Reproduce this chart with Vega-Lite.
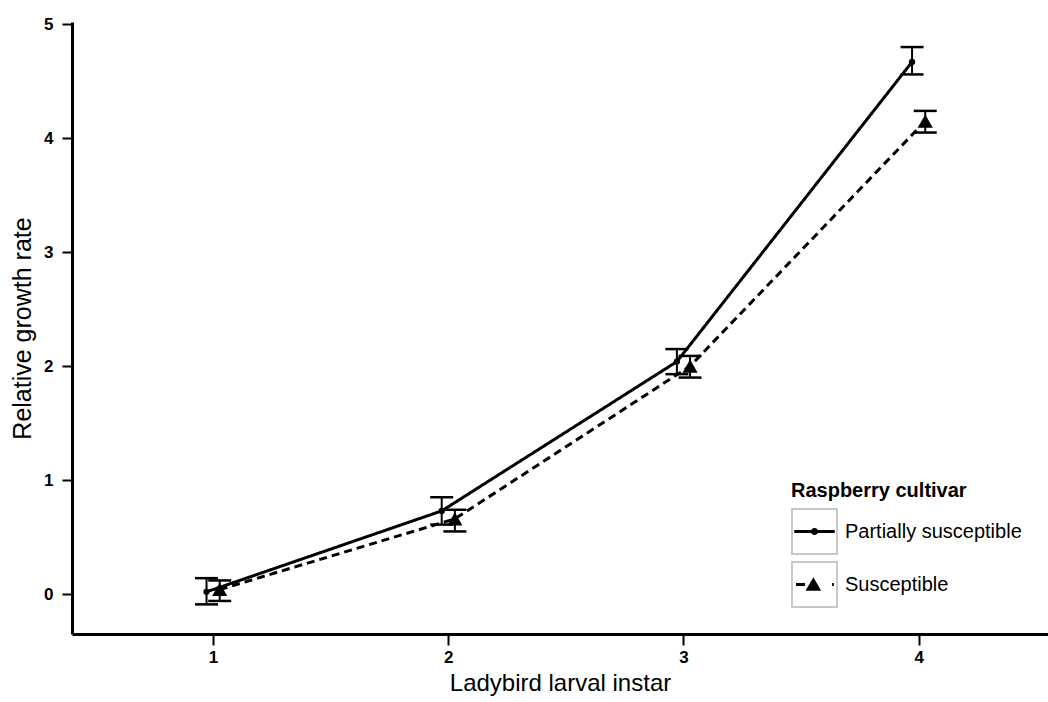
{
  "$schema": "https://vega.github.io/schema/vega-lite/v6.json",
  "width": 976,
  "height": 612,
  "autosize": {"type": "none"},
  "padding": {"left": 72, "top": 22, "right": 0, "bottom": 68},
  "background": "white",
  "config": {
    "view": {"stroke": null},
    "font": "Liberation Sans",
    "axis": {"grid": false, "domainColor": "black", "tickColor": "black", "labelColor": "black", "titleColor": "black", "labelFont": "Liberation Sans", "titleFont": "Liberation Sans"}
  },
  "data": {
    "values": [
      {"cultivar": "Partially susceptible", "instar": 1, "mean": 0.02, "lo": -0.09, "hi": 0.14},
      {"cultivar": "Partially susceptible", "instar": 2, "mean": 0.73, "lo": 0.61, "hi": 0.85},
      {"cultivar": "Partially susceptible", "instar": 3, "mean": 2.04, "lo": 1.93, "hi": 2.15},
      {"cultivar": "Partially susceptible", "instar": 4, "mean": 4.67, "lo": 4.56, "hi": 4.8},
      {"cultivar": "Susceptible", "instar": 1, "mean": 0.04, "lo": -0.06, "hi": 0.12},
      {"cultivar": "Susceptible", "instar": 2, "mean": 0.66, "lo": 0.55, "hi": 0.74},
      {"cultivar": "Susceptible", "instar": 3, "mean": 2.0, "lo": 1.9, "hi": 2.09},
      {"cultivar": "Susceptible", "instar": 4, "mean": 4.15, "lo": 4.05, "hi": 4.24}
    ]
  },
  "transform": [
    {"calculate": "datum.instar + (datum.cultivar === 'Susceptible' ? 0.028 : -0.028)", "as": "pos"},
    {"calculate": "datum.cultivar", "as": "box"}
  ],
  "encoding": {
    "x": {
      "field": "pos",
      "type": "quantitative",
      "title": "Ladybird larval instar",
      "scale": {"domain": [0.4, 4.55], "nice": false, "zero": false},
      "axis": {
        "values": [1, 2, 3, 4],
        "format": "d",
        "domainWidth": 3,
        "tickWidth": 2,
        "tickSize": 11,
        "labelFontSize": 17,
        "labelFontWeight": "bold",
        "labelPadding": 4,
        "titleFontSize": 24,
        "titleFontWeight": "normal",
        "titlePadding": 6
      }
    }
  },
  "layer": [
    {
      "mark": {"type": "line", "color": "black", "strokeWidth": 3},
      "encoding": {
        "y": {
          "field": "mean",
          "type": "quantitative",
          "title": "Relative growth rate",
          "scale": {"domain": [-0.35, 5.02], "nice": false, "zero": false},
          "axis": {
            "values": [0, 1, 2, 3, 4, 5],
            "format": "d",
            "domainWidth": 3,
            "tickWidth": 2,
            "tickSize": 10,
            "labelFontSize": 17,
            "labelFontWeight": "bold",
            "labelPadding": 9,
            "titleFontSize": 25,
            "titleFontWeight": "normal",
            "titlePadding": 8
          }
        },
        "strokeDash": {
          "field": "cultivar",
          "type": "nominal",
          "scale": {"domain": ["Partially susceptible", "Susceptible"], "range": [[1, 0], [8, 5]]},
          "legend": null
        }
      }
    },
    {
      "mark": {"type": "rule", "color": "black", "strokeWidth": 2, "opacity": 1},
      "encoding": {
        "y": {"field": "lo", "type": "quantitative", "title": "Relative growth rate"},
        "y2": {"field": "hi"}
      }
    },
    {
      "mark": {"type": "tick", "color": "black", "orient": "horizontal", "size": 23, "thickness": 2.5, "opacity": 1},
      "encoding": {
        "y": {"field": "lo", "type": "quantitative", "title": "Relative growth rate"}
      }
    },
    {
      "mark": {"type": "tick", "color": "black", "orient": "horizontal", "size": 23, "thickness": 2.5, "opacity": 1},
      "encoding": {
        "y": {"field": "hi", "type": "quantitative", "title": "Relative growth rate"}
      }
    },
    {
      "mark": {"type": "point", "filled": true, "opacity": 0},
      "encoding": {
        "y": {"field": "mean", "type": "quantitative", "title": "Relative growth rate"},
        "fill": {
          "field": "box",
          "type": "nominal",
          "scale": {"range": ["white", "white"]},
          "legend": {
            "title": null,
            "orient": "none",
            "legendX": 719,
            "legendY": 486,
            "padding": 0,
            "rowPadding": 0,
            "labelFontSize": 20,
            "labelExpr": "''",
            "labelOffset": 7,
            "symbolSize": 2025,
            "symbolStrokeWidth": 2,
            "symbolStrokeColor": "#c8c8c8",
            "symbolType": "square",
            "encode": {
              "symbols": {
                "update": {
                  "shape": {"value": "square"},
                  "fill": {"value": "transparent"},
                  "stroke": {"value": "#c8c8c8"},
                  "strokeWidth": {"value": 2},
                  "opacity": {"value": 1},
                  "size": {"value": 2025}
                }
              }
            }
          }
        }
      }
    },
    {
      "mark": {"type": "point", "filled": true, "color": "black", "opacity": 0},
      "encoding": {
        "y": {"field": "mean", "type": "quantitative", "title": "Relative growth rate"},
        "shape": {
          "field": "cultivar",
          "type": "nominal",
          "scale": {
            "range": [
              "M0,-1Z M0,1Z M-0.9,-0.07H0.9V0.07H-0.9Z M-0.16,0A0.16,0.16 0 1,1 0.16,0A0.16,0.16 0 1,1 -0.16,0Z",
              "M0,-1Z M0,1Z M-0.82,-0.07H-0.42V0.07H-0.82Z M-0.05,-0.32L0.3,0.28L-0.4,0.28Z M0.78,-0.07H0.86V0.07H0.78Z"
            ]
          },
          "legend": {
            "title": "Raspberry cultivar",
            "orient": "none",
            "legendX": 719,
            "legendY": 459,
            "padding": 0,
            "rowPadding": 0,
            "titleFontSize": 20,
            "titleFontWeight": "bold",
            "titleFont": "Liberation Sans",
            "titleColor": "black",
            "titlePadding": 7,
            "labelFontSize": 20,
            "labelFont": "Liberation Sans",
            "labelColor": "black",
            "labelOffset": 7,
            "labelLimit": 400,
            "symbolSize": 2025,
            "symbolFillColor": "black",
            "symbolStrokeColor": "transparent",
            "symbolStrokeWidth": 2,
            "symbolOpacity": 1
          }
        }
      }
    },
    {
      "transform": [{"filter": "datum.cultivar === 'Partially susceptible'"}],
      "mark": {"type": "point", "filled": true, "color": "black", "opacity": 1, "shape": "circle", "size": 40},
      "encoding": {
        "y": {"field": "mean", "type": "quantitative", "title": "Relative growth rate"}
      }
    },
    {
      "transform": [{"filter": "datum.cultivar === 'Susceptible'"}],
      "mark": {"type": "point", "filled": true, "color": "black", "opacity": 1, "shape": "triangle-up", "size": 230},
      "encoding": {
        "y": {"field": "mean", "type": "quantitative", "title": "Relative growth rate"}
      }
    }
  ]
}
